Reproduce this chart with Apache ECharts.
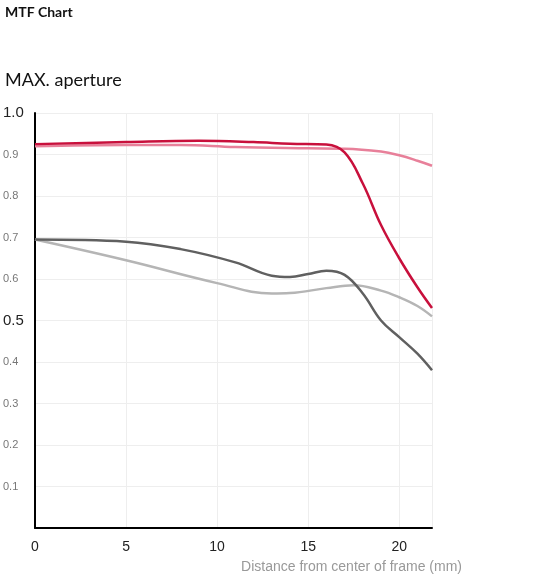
<!DOCTYPE html>
<html>
<head>
<meta charset="utf-8">
<script src="https://cdn.jsdelivr.net/npm/echarts@6/dist/echarts.min.js"></script>
<style>
    body { margin: 0; font-family: Lato, sans-serif; }
    #chart { width: 547px; height: 585px; }
</style>
</head>
<body>
<div id="chart"></div>
<script>
    // distance from center (mm) / MTF values
    var redLine = [[0, 0.925], [5, 0.93], [9, 0.933], [12, 0.93], [14, 0.926], [16, 0.924], [17, 0.905], [18, 0.83], [19, 0.73], [20, 0.65], [21, 0.58], [21.8, 0.53]];
    var pinkLine = [[0, 0.92], [5, 0.923], [8, 0.923], [11, 0.918], [15, 0.915], [17, 0.914], [19, 0.907], [20, 0.898], [21, 0.885], [21.8, 0.873]];
    var darkGray = [[0, 0.695], [5, 0.69], [8, 0.672], [11, 0.64], [13, 0.608], [14, 0.605], [15, 0.612], [16, 0.62], [17, 0.61], [18, 0.565], [19, 0.5], [20, 0.46], [21, 0.42], [21.8, 0.38]];
    var lightGray = [[0, 0.695], [5, 0.645], [10, 0.59], [13, 0.565], [14, 0.566], [16, 0.578], [17.5, 0.585], [19, 0.572], [20, 0.556], [21, 0.535], [21.8, 0.51]];

    var myChart = echarts.init(document.getElementById('chart'));

    function mk(data, color) {
      return { type: 'line', data: data, smooth: 0.4, symbol: 'none', lineStyle: { color: color, width: 2.5 } };
    }

    myChart.setOption({
      animation: false,
      title: [
        { text: 'MTF Chart', left: 0, top: 0, textStyle: { fontSize: 14, fontWeight: 'bold', color: '#111', fontFamily: 'Lato' } },
        { text: 'MAX. aperture', left: 0, top: 66, textStyle: { fontSize: 18, fontWeight: 'normal', color: '#111', fontFamily: 'Lato' } }
      ],
      grid: { left: 32, right: 115, top: 113, bottom: 57 },
      xAxis: {
        type: 'value', min: 0, max: 21.8, interval: 5,
        name: 'Distance from center of frame (mm)', nameLocation: 'end',
        nameGap: 0,
        nameTextStyle: { color: '#999', fontSize: 14, align: 'right', verticalAlign: 'top', padding: [32, -30, 0, 0] },
        axisLine: { lineStyle: { color: '#000', width: 2 } },
        axisTick: { show: false },
        splitLine: { lineStyle: { color: '#eee' } },
        axisLabel: { color: '#222', fontSize: 14, margin: 12, showMaxLabel: false }
      },
      yAxis: {
        type: 'value', min: 0, max: 1, interval: 0.1,
        axisLine: { show: true, lineStyle: { color: '#000', width: 2 } },
        axisTick: { show: false },
        splitLine: { lineStyle: { color: '#eee' } },
        axisLabel: {
          align: 'left', margin: 32,
          formatter: function (v) {
            if (v === 0) return '';
            var s = v.toFixed(1);
            return (s === '1.0' || s === '0.5') ? '{b|' + s + '}' : '{s|' + s + '}';
          },
          rich: { b: { fontSize: 15, color: '#222' }, s: { fontSize: 11, color: '#777' } }
        }
      },
      series: [
        mk(pinkLine, '#e8809a'),
        mk(lightGray, '#b5b5b5'),
        mk(darkGray, '#606060'),
        mk(redLine, '#c8103c')
      ]
    });
</script>
</body>
</html>
